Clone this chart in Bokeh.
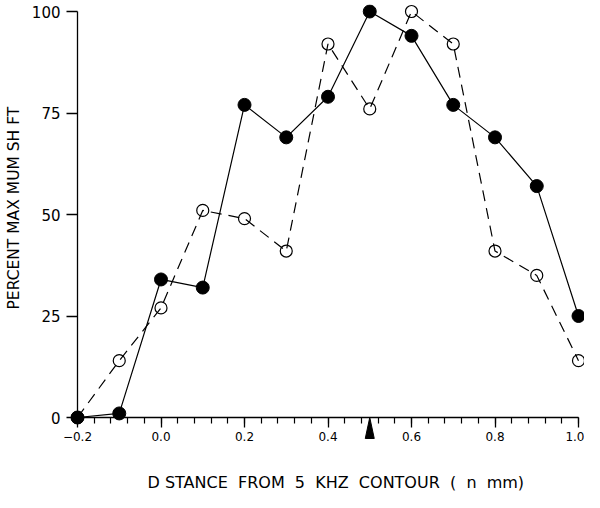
from bokeh.plotting import figure
from bokeh.models import LinearAxis, FixedTicker, Range1d, Title, CustomJSTickFormatter
from bokeh.embed import file_html
from bokeh.resources import INLINE

# ---- data ----
distance = [-0.2, -0.1, 0.0, 0.1, 0.2, 0.3, 0.4, 0.5, 0.6, 0.7, 0.8, 0.9, 1.0]
filled_shift = [0, 1, 34, 32, 77, 69, 79, 100, 94, 77, 69, 57, 25]
open_shift = [0, 14, 27, 51, 49, 41, 92, 76, 100, 92, 41, 35, 14]
x_tick_values = [-0.2, 0.0, 0.2, 0.4, 0.6, 0.8, 1.0]
x_tick_labels = ["\u22120.2", "0.0", "0.2", "0.4", "0.6", "0.8", "1.0"]
x_minor_step = 0.04
y_tick_values = [0, 25, 50, 75, 100]
arrow_x = 0.5
x_title = "D STANCE \u00a0FROM \u00a05 \u00a0KHZ \u00a0CONTOUR \u00a0( \u00a0n \u00a0mm)"
y_title = "PERCENT MAX MUM SH FT"

FONT = "DejaVu Sans"
W, H = 584, 492
L, R, T, B = 22, 584, 4, 470          # frame edges (canvas px)
X0_PX, X1_PX = 77, 578                 # where -0.2 and 1.0 fall
Y0_PX, Y100_PX = 417, 11               # where 0 and 100 fall

xpp = (x_tick_values[-1] - x_tick_values[0]) / (X1_PX - X0_PX)
ypp = (y_tick_values[-1] - y_tick_values[0]) / (Y0_PX - Y100_PX)
x_start = x_tick_values[0] - (X0_PX - L) * xpp
x_end = x_start + (R - L) * xpp
y_end = y_tick_values[-1] + (Y100_PX - T) * ypp
y_start = y_tick_values[0] - (B - Y0_PX) * ypp

p = figure(width=W, height=H, x_range=Range1d(x_start, x_end), y_range=Range1d(y_start, y_end),
           output_backend="svg", toolbar_location=None, x_axis_type=None, y_axis_type=None,
           min_border_left=L, min_border_right=W - R, min_border_top=T, min_border_bottom=H - B)
p.outline_line_color = None
p.background_fill_color = "white"

minor = [round(x_tick_values[0] + i * x_minor_step, 4)
         for i in range(int(round((x_tick_values[-1] - x_tick_values[0]) / x_minor_step)) + 1)]

yaxis = LinearAxis(fixed_location=x_tick_values[0], bounds=(y_tick_values[0], y_tick_values[-1]),
                   ticker=FixedTicker(ticks=y_tick_values),
                   major_tick_out=11, major_tick_in=0, minor_tick_out=0, minor_tick_in=0,
                   major_label_standoff=6, major_label_text_font=FONT,
                   major_label_text_font_size="15px", major_label_text_color="black",
                   axis_line_width=1.3, major_tick_line_width=1.3,
                   axis_line_color="black", major_tick_line_color="black")
p.add_layout(yaxis, "left")

x_formatter = CustomJSTickFormatter(
    args=dict(vals=x_tick_values, labels=x_tick_labels),
    code="""
    for (let i = 0; i < vals.length; i++) {
        if (Math.abs(vals[i] - tick) < 1e-9) return labels[i];
    }
    return "";
    """)

xaxis = LinearAxis(fixed_location=y_tick_values[0], bounds=(x_tick_values[0], x_tick_values[-1]),
                   ticker=FixedTicker(ticks=x_tick_values, minor_ticks=minor),
                   formatter=x_formatter,
                   major_tick_out=10, major_tick_in=0, minor_tick_out=6, minor_tick_in=0,
                   major_label_standoff=4, major_label_text_font=FONT,
                   major_label_text_font_size="12px", major_label_text_color="black",
                   axis_line_width=1.3, major_tick_line_width=1.3, minor_tick_line_width=1.2,
                   axis_line_color="black", major_tick_line_color="black", minor_tick_line_color="black")
p.add_layout(xaxis, "below")

p.add_layout(Title(text=y_title, align="left", offset=B - 309, standoff=0, text_font=FONT,
                   text_font_size="15.5px", text_font_style="normal", text_color="black"), "left")
p.add_layout(Title(text=x_title, align="left", offset=147 - L, standoff=0, text_font=FONT,
                   text_font_size="16px", text_font_style="normal", text_color="black"), "below")

# dashed series with open circles
p.line(distance, open_shift, line_color="black", line_width=1.2, line_dash="11 7")
p.scatter(distance, open_shift, size=12, fill_color=None, line_color="black", line_width=1.2)
# solid series with filled circles
p.line(distance, filled_shift, line_color="black", line_width=1.2)
p.scatter(distance, filled_shift, size=13, fill_color="black", line_color="black")

# arrow marking the 5 kHz place on the x-axis
hw = 4.5 * xpp
ah = 21 * ypp
p.patch([arrow_x - hw, arrow_x, arrow_x + hw], [y_tick_values[0] - ah, y_tick_values[0], y_tick_values[0] - ah],
        color="black")

open("out.html", "w").write(file_html(p, INLINE))
